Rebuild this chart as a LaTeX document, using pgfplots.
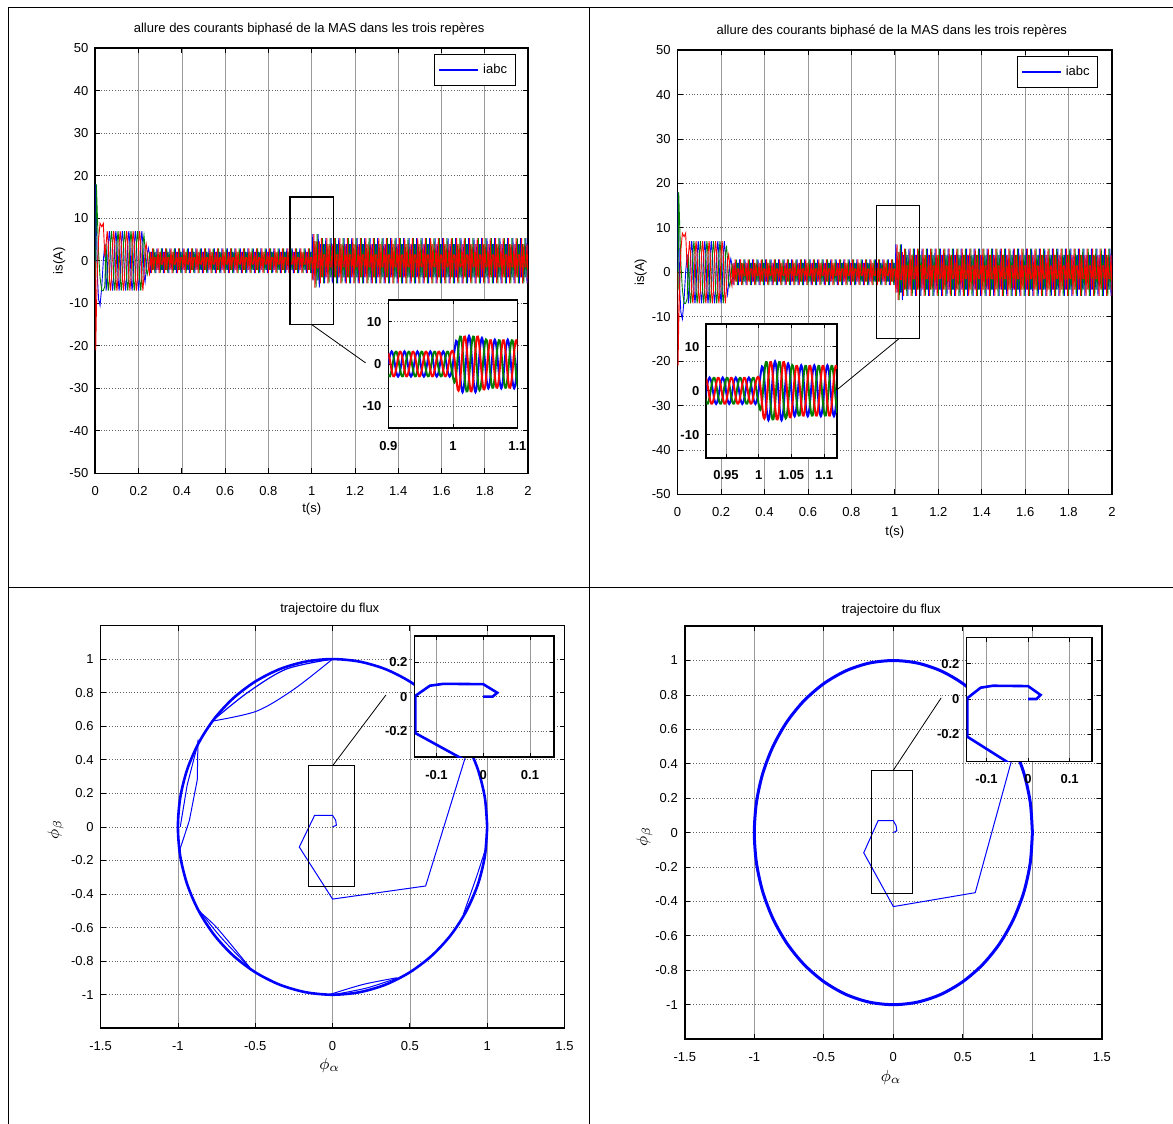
\documentclass[border=0pt]{standalone}
\usepackage{fontspec}
\setmainfont{Liberation Sans}
\usepackage{pgfplots}
\usepackage{pgfplotstable}
\pgfplotsset{compat=1.18}
\definecolor{mblue}{rgb}{0,0,1}
\definecolor{mgreen}{rgb}{0,0.5,0}
\definecolor{mred}{rgb}{1,0,0}
\newcommand{\fs}{\fontsize{6.5}{7.8}\selectfont}

\pgfplotstableread{
t a b c
0 0 0 0
0.002 18 -4 -21
0.005 10 18 -12
0.010 -4 10 -2
0.015 -9 2 5
0.022 -10.5 -4 8.8
0.030 -6 -7 8
0.037 0 -7 8.8
0.044 4 -6 1
0.050 -7 4 4
0.055 -4 -4 7
0.060 4 -7 4
0.065 7 -4 -4
0.070 4 4 -7
0.075 -4 7 -4
0.080 -7 4 4
0.085 -4 -4 7
0.090 4 -7 4
0.095 7 -4 -4
0.100 4 4 -7
0.105 -4 7 -4
0.110 -7 4 4
0.115 -4 -4 7
0.120 4 -7 4
0.125 7 -4 -4
0.130 4 4 -7
0.135 -4 7 -4
0.140 -7 4 4
0.145 -4 -4 7
0.150 4 -7 4
0.155 7 -4 -4
0.160 4 4 -7
0.165 -4 7 -4
0.170 -7 4 4
0.175 -4 -4 7
0.180 4 -7 4
0.185 7 -4 -4
0.190 4 4 -7
0.195 -4 7 -4
0.200 -7 4 4
0.205 -4 -4 7
0.210 4 -7 4
0.215 7 -4 -4
0.220 4 4 -7
0.225 -3.4 6 -3.4
0.230 -5 2.8 2.8
0.235 -2.2 -2.2 4
0.240 1.6 -3.2 1.6
0.245 3 -1.7 -1.7
0.250 1.7 1.7 -3
0.255 -2.90 0.78 2.12
0.260 2.12 0.78 -2.90
0.265 -0.78 -2.12 2.90
0.270 -0.78 2.90 -2.12
0.275 2.12 -2.90 0.78
0.280 -2.90 2.12 0.78
0.285 2.90 -0.78 -2.12
0.290 -2.12 -0.78 2.90
0.295 0.78 2.12 -2.90
0.300 0.78 -2.90 2.12
0.305 -2.12 2.90 -0.78
0.310 2.90 -2.12 -0.78
0.315 -2.90 0.78 2.12
0.320 2.12 0.78 -2.90
0.325 -0.78 -2.12 2.90
0.330 -0.78 2.90 -2.12
0.335 2.12 -2.90 0.78
0.340 -2.90 2.12 0.78
0.345 2.90 -0.78 -2.12
0.350 -2.12 -0.78 2.90
0.355 0.78 2.12 -2.90
0.360 0.78 -2.90 2.12
0.365 -2.12 2.90 -0.78
0.370 2.90 -2.12 -0.78
0.375 -2.90 0.78 2.12
0.380 2.12 0.78 -2.90
0.385 -0.78 -2.12 2.90
0.390 -0.78 2.90 -2.12
0.395 2.12 -2.90 0.78
0.400 -2.90 2.12 0.78
0.405 2.90 -0.78 -2.12
0.410 -2.12 -0.78 2.90
0.415 0.78 2.12 -2.90
0.420 0.78 -2.90 2.12
0.425 -2.12 2.90 -0.78
0.430 2.90 -2.12 -0.78
0.435 -2.90 0.78 2.12
0.440 2.12 0.78 -2.90
0.445 -0.78 -2.12 2.90
0.450 -0.78 2.90 -2.12
0.455 2.12 -2.90 0.78
0.460 -2.90 2.12 0.78
0.465 2.90 -0.78 -2.12
0.470 -2.12 -0.78 2.90
0.475 0.78 2.12 -2.90
0.480 0.78 -2.90 2.12
0.485 -2.12 2.90 -0.78
0.490 2.90 -2.12 -0.78
0.495 -2.90 0.78 2.12
0.500 2.12 0.78 -2.90
0.505 -0.78 -2.12 2.90
0.510 -0.78 2.90 -2.12
0.515 2.12 -2.90 0.78
0.520 -2.90 2.12 0.78
0.525 2.90 -0.78 -2.12
0.530 -2.12 -0.78 2.90
0.535 0.78 2.12 -2.90
0.540 0.78 -2.90 2.12
0.545 -2.12 2.90 -0.78
0.550 2.90 -2.12 -0.78
0.555 -2.90 0.78 2.12
0.560 2.12 0.78 -2.90
0.565 -0.78 -2.12 2.90
0.570 -0.78 2.90 -2.12
0.575 2.12 -2.90 0.78
0.580 -2.90 2.12 0.78
0.585 2.90 -0.78 -2.12
0.590 -2.12 -0.78 2.90
0.595 0.78 2.12 -2.90
0.600 0.78 -2.90 2.12
0.605 -2.12 2.90 -0.78
0.610 2.90 -2.12 -0.78
0.615 -2.90 0.78 2.12
0.620 2.12 0.78 -2.90
0.625 -0.78 -2.12 2.90
0.630 -0.78 2.90 -2.12
0.635 2.12 -2.90 0.78
0.640 -2.90 2.12 0.78
0.645 2.90 -0.78 -2.12
0.650 -2.12 -0.78 2.90
0.655 0.78 2.12 -2.90
0.660 0.78 -2.90 2.12
0.665 -2.12 2.90 -0.78
0.670 2.90 -2.12 -0.78
0.675 -2.90 0.78 2.12
0.680 2.12 0.78 -2.90
0.685 -0.78 -2.12 2.90
0.690 -0.78 2.90 -2.12
0.695 2.12 -2.90 0.78
0.700 -2.90 2.12 0.78
0.705 2.90 -0.78 -2.12
0.710 -2.12 -0.78 2.90
0.715 0.78 2.12 -2.90
0.720 0.78 -2.90 2.12
0.725 -2.12 2.90 -0.78
0.730 2.90 -2.12 -0.78
0.735 -2.90 0.78 2.12
0.740 2.12 0.78 -2.90
0.745 -0.78 -2.12 2.90
0.750 -0.78 2.90 -2.12
0.755 2.12 -2.90 0.78
0.760 -2.90 2.12 0.78
0.765 2.90 -0.78 -2.12
0.770 -2.12 -0.78 2.90
0.775 0.78 2.12 -2.90
0.780 0.78 -2.90 2.12
0.785 -2.12 2.90 -0.78
0.790 2.90 -2.12 -0.78
0.795 -2.90 0.78 2.12
0.800 2.12 0.78 -2.90
0.805 -0.78 -2.12 2.90
0.810 -0.78 2.90 -2.12
0.815 2.12 -2.90 0.78
0.820 -2.90 2.12 0.78
0.825 2.90 -0.78 -2.12
0.830 -2.12 -0.78 2.90
0.835 0.78 2.12 -2.90
0.840 0.78 -2.90 2.12
0.845 -2.12 2.90 -0.78
0.850 2.90 -2.12 -0.78
0.855 -2.90 0.78 2.12
0.860 2.12 0.78 -2.90
0.865 -0.78 -2.12 2.90
0.870 -0.78 2.90 -2.12
0.875 2.12 -2.90 0.78
0.880 -2.90 2.12 0.78
0.885 2.90 -0.78 -2.12
0.890 -2.12 -0.78 2.90
0.895 0.78 2.12 -2.90
0.900 0.78 -2.90 2.12
0.905 -2.12 2.90 -0.78
0.910 2.90 -2.12 -0.78
0.915 -2.90 0.78 2.12
0.920 2.12 0.78 -2.90
0.925 -0.78 -2.12 2.90
0.930 -0.78 2.90 -2.12
0.935 2.12 -2.90 0.78
0.940 -2.90 2.12 0.78
0.945 2.90 -0.78 -2.12
0.950 -2.12 -0.78 2.90
0.955 0.78 2.12 -2.90
0.960 0.78 -2.90 2.12
0.965 -2.12 2.90 -0.78
0.970 2.90 -2.12 -0.78
0.975 -2.90 0.78 2.12
0.980 2.12 0.78 -2.90
0.985 -0.78 -2.12 2.90
0.990 -0.78 2.90 -2.12
0.995 2.12 -2.90 0.78
1.000 -2.90 2.12 0.78
1.005 6.28 -1.68 -4.60
1.010 -4.60 -1.68 6.28
1.015 1.68 4.60 -6.28
1.020 1.68 -6.28 4.60
1.025 -4.60 6.28 -1.68
1.030 6.28 -4.60 -1.68
1.035 -6.28 1.68 4.60
1.040 3.89 1.42 -5.31
1.045 -1.42 -3.89 5.31
1.050 -1.42 5.31 -3.89
1.055 3.89 -5.31 1.42
1.060 -5.31 3.89 1.42
1.065 5.31 -1.42 -3.89
1.070 -3.89 -1.42 5.31
1.075 1.42 3.89 -5.31
1.080 1.42 -5.31 3.89
1.085 -3.89 5.31 -1.42
1.090 5.31 -3.89 -1.42
1.095 -5.31 1.42 3.89
1.100 3.89 1.42 -5.31
1.105 -1.42 -3.89 5.31
1.110 -1.42 5.31 -3.89
1.115 3.89 -5.31 1.42
1.120 -5.31 3.89 1.42
1.125 5.31 -1.42 -3.89
1.130 -3.89 -1.42 5.31
1.135 1.42 3.89 -5.31
1.140 1.42 -5.31 3.89
1.145 -3.89 5.31 -1.42
1.150 5.31 -3.89 -1.42
1.155 -5.31 1.42 3.89
1.160 3.89 1.42 -5.31
1.165 -1.42 -3.89 5.31
1.170 -1.42 5.31 -3.89
1.175 3.89 -5.31 1.42
1.180 -5.31 3.89 1.42
1.185 5.31 -1.42 -3.89
1.190 -3.89 -1.42 5.31
1.195 1.42 3.89 -5.31
1.200 1.42 -5.31 3.89
1.205 -3.89 5.31 -1.42
1.210 5.31 -3.89 -1.42
1.215 -5.31 1.42 3.89
1.220 3.89 1.42 -5.31
1.225 -1.42 -3.89 5.31
1.230 -1.42 5.31 -3.89
1.235 3.89 -5.31 1.42
1.240 -5.31 3.89 1.42
1.245 5.31 -1.42 -3.89
1.250 -3.89 -1.42 5.31
1.255 1.42 3.89 -5.31
1.260 1.42 -5.31 3.89
1.265 -3.89 5.31 -1.42
1.270 5.31 -3.89 -1.42
1.275 -5.31 1.42 3.89
1.280 3.89 1.42 -5.31
1.285 -1.42 -3.89 5.31
1.290 -1.42 5.31 -3.89
1.295 3.89 -5.31 1.42
1.300 -5.31 3.89 1.42
1.305 5.31 -1.42 -3.89
1.310 -3.89 -1.42 5.31
1.315 1.42 3.89 -5.31
1.320 1.42 -5.31 3.89
1.325 -3.89 5.31 -1.42
1.330 5.31 -3.89 -1.42
1.335 -5.31 1.42 3.89
1.340 3.89 1.42 -5.31
1.345 -1.42 -3.89 5.31
1.350 -1.42 5.31 -3.89
1.355 3.89 -5.31 1.42
1.360 -5.31 3.89 1.42
1.365 5.31 -1.42 -3.89
1.370 -3.89 -1.42 5.31
1.375 1.42 3.89 -5.31
1.380 1.42 -5.31 3.89
1.385 -3.89 5.31 -1.42
1.390 5.31 -3.89 -1.42
1.395 -5.31 1.42 3.89
1.400 3.89 1.42 -5.31
1.405 -1.42 -3.89 5.31
1.410 -1.42 5.31 -3.89
1.415 3.89 -5.31 1.42
1.420 -5.31 3.89 1.42
1.425 5.31 -1.42 -3.89
1.430 -3.89 -1.42 5.31
1.435 1.42 3.89 -5.31
1.440 1.42 -5.31 3.89
1.445 -3.89 5.31 -1.42
1.450 5.31 -3.89 -1.42
1.455 -5.31 1.42 3.89
1.460 3.89 1.42 -5.31
1.465 -1.42 -3.89 5.31
1.470 -1.42 5.31 -3.89
1.475 3.89 -5.31 1.42
1.480 -5.31 3.89 1.42
1.485 5.31 -1.42 -3.89
1.490 -3.89 -1.42 5.31
1.495 1.42 3.89 -5.31
1.500 1.42 -5.31 3.89
1.505 -3.89 5.31 -1.42
1.510 5.31 -3.89 -1.42
1.515 -5.31 1.42 3.89
1.520 3.89 1.42 -5.31
1.525 -1.42 -3.89 5.31
1.530 -1.42 5.31 -3.89
1.535 3.89 -5.31 1.42
1.540 -5.31 3.89 1.42
1.545 5.31 -1.42 -3.89
1.550 -3.89 -1.42 5.31
1.555 1.42 3.89 -5.31
1.560 1.42 -5.31 3.89
1.565 -3.89 5.31 -1.42
1.570 5.31 -3.89 -1.42
1.575 -5.31 1.42 3.89
1.580 3.89 1.42 -5.31
1.585 -1.42 -3.89 5.31
1.590 -1.42 5.31 -3.89
1.595 3.89 -5.31 1.42
1.600 -5.31 3.89 1.42
1.605 5.31 -1.42 -3.89
1.610 -3.89 -1.42 5.31
1.615 1.42 3.89 -5.31
1.620 1.42 -5.31 3.89
1.625 -3.89 5.31 -1.42
1.630 5.31 -3.89 -1.42
1.635 -5.31 1.42 3.89
1.640 3.89 1.42 -5.31
1.645 -1.42 -3.89 5.31
1.650 -1.42 5.31 -3.89
1.655 3.89 -5.31 1.42
1.660 -5.31 3.89 1.42
1.665 5.31 -1.42 -3.89
1.670 -3.89 -1.42 5.31
1.675 1.42 3.89 -5.31
1.680 1.42 -5.31 3.89
1.685 -3.89 5.31 -1.42
1.690 5.31 -3.89 -1.42
1.695 -5.31 1.42 3.89
1.700 3.89 1.42 -5.31
1.705 -1.42 -3.89 5.31
1.710 -1.42 5.31 -3.89
1.715 3.89 -5.31 1.42
1.720 -5.31 3.89 1.42
1.725 5.31 -1.42 -3.89
1.730 -3.89 -1.42 5.31
1.735 1.42 3.89 -5.31
1.740 1.42 -5.31 3.89
1.745 -3.89 5.31 -1.42
1.750 5.31 -3.89 -1.42
1.755 -5.31 1.42 3.89
1.760 3.89 1.42 -5.31
1.765 -1.42 -3.89 5.31
1.770 -1.42 5.31 -3.89
1.775 3.89 -5.31 1.42
1.780 -5.31 3.89 1.42
1.785 5.31 -1.42 -3.89
1.790 -3.89 -1.42 5.31
1.795 1.42 3.89 -5.31
1.800 1.42 -5.31 3.89
1.805 -3.89 5.31 -1.42
1.810 5.31 -3.89 -1.42
1.815 -5.31 1.42 3.89
1.820 3.89 1.42 -5.31
1.825 -1.42 -3.89 5.31
1.830 -1.42 5.31 -3.89
1.835 3.89 -5.31 1.42
1.840 -5.31 3.89 1.42
1.845 5.31 -1.42 -3.89
1.850 -3.89 -1.42 5.31
1.855 1.42 3.89 -5.31
1.860 1.42 -5.31 3.89
1.865 -3.89 5.31 -1.42
1.870 5.31 -3.89 -1.42
1.875 -5.31 1.42 3.89
1.880 3.89 1.42 -5.31
1.885 -1.42 -3.89 5.31
1.890 -1.42 5.31 -3.89
1.895 3.89 -5.31 1.42
1.900 -5.31 3.89 1.42
1.905 5.31 -1.42 -3.89
1.910 -3.89 -1.42 5.31
1.915 1.42 3.89 -5.31
1.920 1.42 -5.31 3.89
1.925 -3.89 5.31 -1.42
1.930 5.31 -3.89 -1.42
1.935 -5.31 1.42 3.89
1.940 3.89 1.42 -5.31
1.945 -1.42 -3.89 5.31
1.950 -1.42 5.31 -3.89
1.955 3.89 -5.31 1.42
1.960 -5.31 3.89 1.42
1.965 5.31 -1.42 -3.89
1.970 -3.89 -1.42 5.31
1.975 1.42 3.89 -5.31
1.980 1.42 -5.31 3.89
1.985 -3.89 5.31 -1.42
1.990 5.31 -3.89 -1.42
1.995 -5.31 1.42 3.89
2.000 3.89 1.42 -5.31
}\maindata

\pgfplotstableread{
t a b c
0.9000 0 -2.60 2.60
0.9025 2.12 -2.90 0.78
0.9050 3 -1.50 -1.50
0.9075 2.12 0.78 -2.90
0.9100 0 2.60 -2.60
0.9125 -2.12 2.90 -0.78
0.9150 -3 1.50 1.50
0.9175 -2.12 -0.78 2.90
0.9200 0 -2.60 2.60
0.9225 2.12 -2.90 0.78
0.9250 3 -1.50 -1.50
0.9275 2.12 0.78 -2.90
0.9300 0 2.60 -2.60
0.9325 -2.12 2.90 -0.78
0.9350 -3 1.50 1.50
0.9375 -2.12 -0.78 2.90
0.9400 0 -2.60 2.60
0.9425 2.12 -2.90 0.78
0.9450 3 -1.50 -1.50
0.9475 2.12 0.78 -2.90
0.9500 0 2.60 -2.60
0.9525 -2.12 2.90 -0.78
0.9550 -3 1.50 1.50
0.9575 -2.12 -0.78 2.90
0.9600 0 -2.60 2.60
0.9625 2.12 -2.90 0.78
0.9650 3 -1.50 -1.50
0.9675 2.12 0.78 -2.90
0.9700 0 2.60 -2.60
0.9725 -2.12 2.90 -0.78
0.9750 -3 1.50 1.50
0.9775 -2.12 -0.78 2.90
0.9800 0 -2.60 2.60
0.9825 2.12 -2.90 0.78
0.9850 3 -1.50 -1.50
0.9875 2.12 0.78 -2.90
0.9900 0 2.60 -2.60
0.9925 -2.12 2.90 -0.78
0.9950 -3 1.50 1.50
0.9975 -2.12 -0.78 2.90
1.0000 0 -3.03 3.03
1.0025 3.18 -4.35 1.17
1.0050 5.5 -2.75 -2.75
1.0075 4.45 1.63 -6.09
1.0100 0 5.80 -5.80
1.0125 -4.74 6.47 -1.74
1.0150 -6.7 3.35 3.35
1.0175 -4.74 -1.74 6.47
1.0200 0 -5.80 5.80
1.0225 4.74 -6.47 1.74
1.0250 6.7 -3.35 -3.35
1.0275 4.74 1.74 -6.47
1.0300 0 5.80 -5.80
1.0325 -4.74 6.47 -1.74
1.0350 -6.7 3.35 3.35
1.0375 -4.74 -1.74 6.47
1.0400 0 -5.80 5.80
1.0425 4.38 -5.99 1.61
1.0450 6.2 -3.1 -3.1
1.0475 4.38 1.61 -5.99
1.0500 0 5.37 -5.37
1.0525 -4.10 5.60 -1.50
1.0550 -5.80 2.90 2.90
1.0575 -4.10 -1.50 5.60
1.0600 0 -5.02 5.02
1.0625 4.10 -5.60 1.50
1.0650 5.80 -2.90 -2.90
1.0675 4.10 1.50 -5.60
1.0700 0 5.02 -5.02
1.0725 -4.10 5.60 -1.50
1.0750 -5.80 2.90 2.90
1.0775 -4.10 -1.50 5.60
1.0800 0 -5.02 5.02
1.0825 4.10 -5.60 1.50
1.0850 5.80 -2.90 -2.90
1.0875 4.10 1.50 -5.60
1.0900 0 5.02 -5.02
1.0925 -4.10 5.60 -1.50
1.0950 -5.80 2.90 2.90
1.0975 -4.10 -1.50 5.60
1.1000 0 -5.02 5.02
1.1025 4.10 -5.60 1.50
1.1050 5.80 -2.90 -2.90
1.1075 4.10 1.50 -5.60
1.1100 0 5.02 -5.02
1.1125 -4.10 5.60 -1.50
1.1150 -5.80 2.90 2.90
1.1175 -4.10 -1.50 5.60
1.1200 0 -5.02 5.02
}\insetdata

\pgfplotstableread{
x y
1 0
0.985 0.174
0.940 0.342
0.866 0.5
0.766 0.643
0.643 0.766
0.5 0.866
0.342 0.940
0.174 0.985
0 1
-0.174 0.985
-0.342 0.940
-0.5 0.866
-0.643 0.766
-0.766 0.643
-0.866 0.5
-0.940 0.342
-0.985 0.174
-1 0
-0.985 -0.174
-0.940 -0.342
-0.866 -0.5
-0.766 -0.643
-0.643 -0.766
-0.5 -0.866
-0.342 -0.940
-0.174 -0.985
0 -1
0.174 -0.985
0.342 -0.940
0.5 -0.866
0.643 -0.766
0.766 -0.643
0.866 -0.5
0.940 -0.342
0.985 -0.174
1 0
}\circdata

\pgfplotsset{
  every axis title/.style={anchor=center},
  matstyle/.style={
    scale only axis, anchor=south west,
    enlargelimits=false,
    font=\fs,
    /pgf/number format/assume math mode=true,
    tick align=inside,
    major tick length=2.5pt,
    tick style={black, line width=0.4pt},
    axis line style={black, line width=0.85pt},
    grid=major,
    x grid style={black!40, line width=0.35pt},
    y grid style={black!60, line width=0.4pt, densely dotted},
    tick label style={font=\fs},
    xticklabel style={yshift=-3pt},
    title style={font=\fs},
  },
  insetstyle/.style={
    matstyle,
    axis background/.style={fill=white},
    tick label style={font=\fs\bfseries},
    major tick length=2pt,
  },
  legstyle/.style={
    legend style={draw=black, line width=0.5pt, font=\fs, inner xsep=2pt, inner ysep=2.5pt, legend cell align=left},
    legend image code/.code={\draw[mblue, line width=0.7pt] (0pt,0pt) -- (19.5pt,0pt);},
  },
}

\begin{document}
\begin{tikzpicture}
\useasboundingbox (0pt,0pt) rectangle (586.5pt,-562pt);
\fill[white] (0pt,0pt) rectangle (586.5pt,-562pt);

% ---------- panel 1 ----------
\begin{axis}[matstyle, legstyle, at={(47.65pt,-236.7pt)}, width=216.4pt, height=212.6pt,
  xmin=0, xmax=2, ymin=-50, ymax=50,
  xtick={0,0.2,0.4,0.6,0.8,1,1.2,1.4,1.6,1.8,2},
  ytick={-50,-40,-30,-20,-10,0,10,20,30,40,50},
  title={allure des courants biphasé de la MAS dans les trois repères},
  title style={at={(axis description cs:0.494,1.044)}, anchor=center},
  xlabel={t(s)}, xlabel style={at={(axis description cs:0.5,-0.084)}, anchor=center},
  ylabel={is(A)}, ylabel style={at={(axis description cs:-0.083,0.5)}, anchor=center},
  legend style={at={(axis description cs:0.971,0.986)}, anchor=north east},
]
\addplot[mblue, line width=0.45pt] table[x=t,y=a]{\maindata};
\addlegendentry{iabc}
\addplot[mgreen, line width=0.45pt, forget plot] table[x=t,y=b]{\maindata};
\addplot[mred, line width=0.45pt, forget plot] table[x=t,y=c]{\maindata};
\draw[black, line width=0.6pt] (axis cs:0.9,-15) rectangle (axis cs:1.1,15);
\draw[black, line width=0.4pt] (axis cs:1.0,-15) -- (axis cs:1.249,-24);
\end{axis}

\begin{axis}[insetstyle, at={(194.2pt,-214pt)}, width=64.5pt, height=64pt,
  xmin=0.9, xmax=1.1, ymin=-15.2, ymax=15.2,
  xtick={0.9,1,1.1}, ytick={-10,0,10}]
\addplot[mblue, line width=1pt, smooth] table[x=t,y=a]{\insetdata};
\addplot[mgreen, line width=1pt, smooth] table[x=t,y=b]{\insetdata};
\addplot[mred, line width=1pt, smooth] table[x=t,y=c]{\insetdata};
\end{axis}

% ---------- panel 2 ----------
\begin{axis}[matstyle, legstyle, at={(338.8pt,-247.2pt)}, width=217.25pt, height=222.15pt,
  xmin=0, xmax=2, ymin=-50, ymax=50,
  xtick={0,0.2,0.4,0.6,0.8,1,1.2,1.4,1.6,1.8,2},
  ytick={-50,-40,-30,-20,-10,0,10,20,30,40,50},
  title={allure des courants biphasé de la MAS dans les trois repères},
  title style={at={(axis description cs:0.493,1.042)}, anchor=center},
  xlabel={t(s)}, xlabel style={at={(axis description cs:0.5,-0.085)}, anchor=center},
  ylabel={is(A)}, ylabel style={at={(axis description cs:-0.085,0.5)}, anchor=center},
  legend style={at={(axis description cs:0.968,0.986)}, anchor=north east},
]
\addplot[mblue, line width=0.45pt] table[x=t,y=a]{\maindata};
\addlegendentry{iabc}
\addplot[mgreen, line width=0.45pt, forget plot] table[x=t,y=b]{\maindata};
\addplot[mred, line width=0.45pt, forget plot] table[x=t,y=c]{\maindata};
\draw[black, line width=0.6pt] (axis cs:0.915,-15) rectangle (axis cs:1.115,15);
\draw[black, line width=0.4pt] (axis cs:1.018,-15) -- (axis cs:0.735,-26.4);
\end{axis}

\begin{axis}[insetstyle, at={(353.15pt,-228.85pt)}, width=65.45pt, height=66.95pt,
  xmin=0.92, xmax=1.12, ymin=-15.2, ymax=15.2,
  xtick={0.95,1,1.05,1.1}, ytick={-10,0,10},
  xticklabel style={/pgf/number format/precision=2}]
\addplot[mblue, line width=1pt, smooth] table[x=t,y=a]{\insetdata};
\addplot[mgreen, line width=1pt, smooth] table[x=t,y=b]{\insetdata};
\addplot[mred, line width=1pt, smooth] table[x=t,y=c]{\insetdata};
\end{axis}

% ---------- panel 3 ----------
\begin{axis}[matstyle, at={(50.3pt,-514.15pt)}, width=231.95pt, height=201.4pt,
  xmin=-1.5, xmax=1.5, ymin=-1.2, ymax=1.2,
  xtick={-1.5,-1,-0.5,0,0.5,1,1.5},
  ytick={-1,-0.8,-0.6,-0.4,-0.2,0,0.2,0.4,0.6,0.8,1},
  title={trajectoire du flux},
  title style={at={(axis description cs:0.494,1.04)}, anchor=center},
  xlabel={$\phi_\alpha$}, xlabel style={at={(axis description cs:0.494,-0.093)}, anchor=center, font=\fontsize{8}{9}\selectfont},
  ylabel={$\phi_\beta$}, ylabel style={at={(axis description cs:-0.097,0.493)}, anchor=center, font=\fontsize{8}{9}\selectfont},
]
\addplot[mblue, line width=1.3pt, smooth] table[x=x,y=y]{\circdata};
\addplot[mblue, line width=0.5pt, smooth] coordinates {(0,1) (-0.25,0.82) (-0.49,0.69) (-0.78,0.63)};
\addplot[mblue, line width=0.6pt, smooth] coordinates {(0,1) (-0.3,0.94) (-0.55,0.8) (-0.78,0.63)};
\addplot[mblue, line width=0.5pt] coordinates {(-0.87,0.52) (-0.875,0.28) (-0.926,0.038) (-0.993,-0.151)};
\addplot[mblue, line width=0.5pt] coordinates {(-0.87,0.5) (-0.94,0.25) (-0.985,0.0)};
\addplot[mblue, line width=0.5pt, smooth] coordinates {(-0.868,-0.5) (-0.749,-0.6) (-0.534,-0.839)};
\addplot[mblue, line width=0.5pt, smooth] coordinates {(-0.86,-0.5) (-0.72,-0.66) (-0.534,-0.839)};
\addplot[mblue, line width=0.5pt, smooth] coordinates {(-0.016,-0.998) (0.2,-0.938) (0.415,-0.899)};
\addplot[mblue, line width=0.5pt, smooth] coordinates {(0,-1) (0.22,-0.96) (0.42,-0.9)};
\addplot[mblue, line width=0.5pt, smooth] coordinates {(0.846,-0.52) (0.93,-0.3) (0.986,-0.141)};
\addplot[mblue, line width=0.5pt, smooth] coordinates {(0.86,-0.5) (0.95,-0.32) (0.99,-0.15)};
\addplot[mblue, line width=0.5pt] coordinates {(0,0) (0.025,0.01) (0.02,0.04) (0,0.069) (-0.116,0.069) (-0.215,-0.12) (0,-0.43) (0.602,-0.352) (0.857,0.41) (0.87,0.49)};
\draw[black, line width=0.6pt] (axis cs:-0.153,-0.355) rectangle (axis cs:0.144,0.364);
\draw[black, line width=0.4pt] (axis cs:0,0.364) -- (axis cs:0.345,0.786);
\end{axis}

\begin{axis}[insetstyle, at={(207.25pt,-378.65pt)}, width=69.65pt, height=60.55pt,
  xmin=-0.147, xmax=0.151, ymin=-0.354, ymax=0.353,
  xtick={-0.1,0,0.1}, ytick={-0.2,0,0.2}]
\addplot[mblue, line width=1.3pt] coordinates {(0,0) (0.02,0) (0.03,0.023) (0,0.073) (-0.085,0.075) (-0.114,0.064) (-0.145,0.005) (-0.145,-0.213) (0,-0.43)};
\end{axis}

% ---------- panel 4 ----------
\begin{axis}[matstyle, at={(342.4pt,-519.55pt)}, width=208.55pt, height=206.5pt,
  xmin=-1.5, xmax=1.5, ymin=-1.2, ymax=1.2,
  xtick={-1.5,-1,-0.5,0,0.5,1,1.5},
  ytick={-1,-0.8,-0.6,-0.4,-0.2,0,0.2,0.4,0.6,0.8,1},
  title={trajectoire du flux},
  title style={at={(axis description cs:0.495,1.038)}, anchor=center},
  xlabel={$\phi_\alpha$}, xlabel style={at={(axis description cs:0.495,-0.094)}, anchor=center, font=\fontsize{8}{9}\selectfont},
  ylabel={$\phi_\beta$}, ylabel style={at={(axis description cs:-0.097,0.49)}, anchor=center, font=\fontsize{8}{9}\selectfont},
]
\addplot[mblue, line width=1.5pt, smooth] table[x=x,y=y]{\circdata};
\addplot[mblue, line width=0.5pt] coordinates {(0,0) (0.025,0.01) (0.02,0.04) (0,0.069) (-0.11,0.069) (-0.213,-0.117) (0,-0.43) (0.589,-0.349) (0.848,0.413) (0.87,0.49)};
\draw[black, line width=0.6pt] (axis cs:-0.159,-0.353) rectangle (axis cs:0.14,0.363);
\draw[black, line width=0.4pt] (axis cs:0,0.363) -- (axis cs:0.344,0.783);
\end{axis}

\begin{axis}[insetstyle, at={(483.25pt,-380.75pt)}, width=62.6pt, height=61.95pt,
  xmin=-0.148, xmax=0.153, ymin=-0.353, ymax=0.347,
  xtick={-0.1,0,0.1}, ytick={-0.2,0,0.2}]
\addplot[mblue, line width=1.3pt] coordinates {(0,0) (0.02,0) (0.03,0.023) (0,0.073) (-0.085,0.075) (-0.114,0.064) (-0.146,0.005) (-0.146,-0.213) (0,-0.43)};
\end{axis}

% ---------- table borders ----------
\draw[black, line width=0.75pt] (4.2pt,-3.85pt) -- (586.5pt,-3.85pt);
\draw[black, line width=0.75pt] (4.2pt,-3.85pt) -- (4.2pt,-562pt);
\draw[black, line width=0.75pt] (294.85pt,-3.85pt) -- (294.85pt,-562pt);
\draw[black, line width=0.75pt] (4.2pt,-293.7pt) -- (586.5pt,-293.7pt);
\end{tikzpicture}
\end{document}
